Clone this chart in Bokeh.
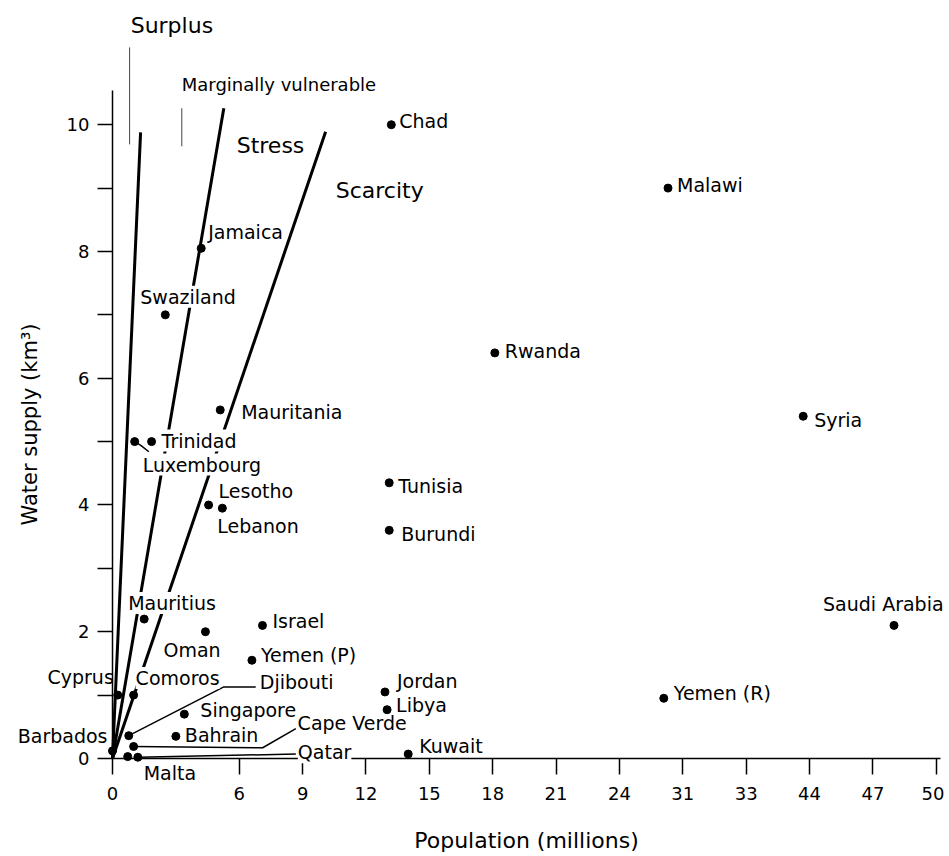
from bokeh.plotting import figure
from bokeh.models import FixedTicker, ColumnDataSource
from bokeh.core.properties import value
from bokeh.embed import file_html
from bokeh.resources import INLINE

# ---------------- data ----------------
countries = ["Chad", "Malawi", "Jamaica", "Swaziland", "Rwanda", "Mauritania", "Syria",
             "Trinidad", "Luxembourg", "Tunisia", "Lesotho", "Lebanon", "Burundi",
             "Mauritius", "Oman", "Israel", "Saudi Arabia", "Yemen (P)", "Jordan", "Libya",
             "Yemen (R)", "Singapore", "Bahrain", "Kuwait", "Barbados", "Cyprus", "Comoros",
             "Djibouti", "Cape Verde", "Qatar", "Malta"]
# population, in axis units (the axis is relabelled beyond 24)
population = [13.2, 26.3, 4.2, 2.5, 18.1, 5.1, 32.7,
              1.85, 1.05, 13.1, 4.55, 5.2, 13.1,
              1.5, 4.4, 7.1, 37.0, 6.6, 12.9, 13.0,
              26.1, 3.4, 3.0, 14.0, 0.0, 0.25, 1.0,
              0.77, 1.0, 1.2, 0.72]
water_supply = [10.0, 9.0, 8.05, 7.0, 6.4, 5.5, 5.4,
                5.0, 5.0, 4.35, 4.0, 3.95, 3.6,
                2.2, 2.0, 2.1, 2.1, 1.55, 1.05, 0.77,
                0.95, 0.7, 0.35, 0.07, 0.12, 1.0, 1.0,
                0.36, 0.19, 0.02, 0.03]

xtick_pos = [0, 6, 9, 12, 15, 18, 21, 24, 27, 30, 33, 36, 39]
xtick_labels = ["0", "6", "9", "12", "15", "18", "21", "24", "31", "33", "44", "47", "50"]
ytick_major = [0, 2, 4, 6, 8, 10]
ytick_minor = [1, 3, 5, 7, 9]

# per-capita boundary lines (from the origin to their drawn ends)
boundary_x = [1.33, 5.27, 10.09]
boundary_y = [9.88, 10.26, 9.89]

region_names = ["Surplus", "Marginally vulnerable", "Stress", "Scarcity"]

# ---------------- layout / style ----------------
FONT = "DejaVu Sans"

label_dx = [8, 9, 7, -25, 10, 21, 11,
            10, 8, 9, 10, -5, 12,
            -16, -42, 10, -71, 9, 12, 9,
            10, 16, 9, 11, -5, -4, 2,
            131, 164, 160, 16]
label_dy = [-4, -3, -16, -18, -2, 2, 4,
            -1, 23, 3, -14, 18, 4,
            -16, 18, -4, -21, -5, -11, -5,
            -5, -4, -1, -8, -15, -18, -17,
            -54, -23, -5, 16]
right_aligned = {"Barbados", "Cyprus"}
with_background = {"Swaziland", "Trinidad", "Luxembourg", "Mauritius", "Comoros", "Qatar"}

# leader lines: from the dot to an anchor near the label (data units)
leaders = {
    "Luxembourg": ([1.34, 1.72], [4.94, 4.84]),
    "Djibouti": ([5.27, 6.78], [1.13, 1.13]),
    "Cape Verde": ([7.11, 8.68], [0.17, 0.47]),
    "Qatar": ([8.68], [0.07]),
}

region_x = [0.86, 3.28, 5.88, 10.57]
region_y = [11.57, 10.64, 9.67, 8.96]
region_size = ["22px", "18px", "22px", "22px"]
pointer_x = [0.81, 3.28]
pointer_y0 = [11.22, 10.26]
pointer_y1 = [9.69, 9.66]

p = figure(width=944, height=856, x_range=(0, 39.2), y_range=(0, 10.54),
           output_backend="svg", toolbar_location=None, title=None,
           min_border_left=112, min_border_right=4, min_border_top=90, min_border_bottom=98)
p.grid.visible = False
p.outline_line_color = None

xa = p.xaxis[0]
ya = p.yaxis[0]
xa.ticker = FixedTicker(ticks=xtick_pos)
xa.major_label_overrides = {t: lab for t, lab in zip(xtick_pos, xtick_labels)}
ya.ticker = FixedTicker(ticks=ytick_major, minor_ticks=ytick_minor)
xa.axis_label = "Population (millions)"
ya.axis_label = "Water supply (km³)"

for ax in (xa, ya):
    ax.axis_line_color = "black"
    ax.axis_line_width = 1.5
    ax.major_tick_line_color = "black"
    ax.major_tick_line_width = 1.5
    ax.minor_tick_line_color = "black"
    ax.minor_tick_line_width = 1.5
    ax.major_tick_in = 0
    ax.minor_tick_in = 0
    ax.major_label_text_font = FONT
    ax.major_label_text_font_size = "18px"
    ax.major_label_text_color = "black"
    ax.axis_label_text_font = FONT
    ax.axis_label_text_font_style = "normal"
    ax.axis_label_text_color = "black"

xa.axis_label_text_font_size = "22px"
ya.axis_label_text_font_size = "21px"
xa.major_tick_out = 16
xa.minor_tick_out = 0
xa.major_label_standoff = 12
xa.axis_label_standoff = 25
ya.major_tick_out = 15
ya.minor_tick_out = 15
ya.major_label_standoff = 8
ya.axis_label_standoff = 22

# boundary lines
p.segment(x0=[0] * len(boundary_x), y0=[0] * len(boundary_y), x1=boundary_x, y1=boundary_y,
          line_color="black", line_width=3, level="overlay")
# thin pointers of the region labels
p.segment(x0=pointer_x, y0=pointer_y0, x1=pointer_x, y1=pointer_y1,
          line_color="#444444", line_width=1, level="overlay")

# leader lines
lx, ly = [], []
for name, (xs, ys) in leaders.items():
    i = countries.index(name)
    lx.append([population[i]] + xs)
    ly.append([water_supply[i]] + ys)
p.multi_line(xs=lx, ys=ly, line_color="black", line_width=1.5, level="overlay")

# country labels
def label_source(names_subset):
    idx = [countries.index(n) for n in names_subset]
    return ColumnDataSource(dict(
        x=[population[i] for i in idx], y=[water_supply[i] for i in idx],
        text=[countries[i] for i in idx], dx=[label_dx[i] for i in idx],
        dy=[label_dy[i] for i in idx],
        align=["right" if countries[i] in right_aligned else "left" for i in idx]))

bg_names = [n for n in countries if n in with_background]
plain_names = [n for n in countries if n not in with_background]

p.text(x="x", y="y", text="text", x_offset="dx", y_offset="dy", text_align="align",
       source=label_source(bg_names), text_baseline="middle", text_font=value(FONT),
       text_font_size=value("19px"), text_color="black",
       background_fill_color="white", level="overlay")
p.text(x="x", y="y", text="text", x_offset="dx", y_offset="dy", text_align="align",
       source=label_source(plain_names), text_baseline="middle", text_font=value(FONT),
       text_font_size=value("19px"), text_color="black", level="overlay")

# region labels
p.text(x=region_x, y=region_y, text=region_names, text_baseline="middle",
       text_font=value(FONT), text_font_size=region_size, text_color="black", level="overlay")

# points
p.scatter(population, water_supply, size=8, color="black", level="overlay")

open("out.html", "w").write(file_html(p, INLINE))
